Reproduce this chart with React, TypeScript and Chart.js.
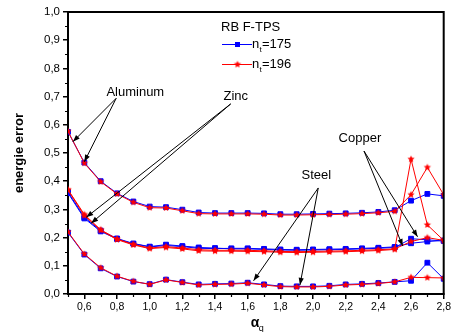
import { useEffect, useRef } from 'react';
import { Chart, registerables } from 'chart.js';

Chart.register(...registerables);

// ---------- data ----------
const ALPHA_Q = [0.5, 0.6, 0.7, 0.8, 0.9, 1.0, 1.1, 1.2, 1.3, 1.4, 1.5, 1.6, 1.7, 1.8, 1.9, 2.0, 2.1, 2.2, 2.3, 2.4, 2.5, 2.6, 2.7, 2.8];

const ALUMINUM_175 = [0.575, 0.466, 0.400, 0.357, 0.328, 0.310, 0.308, 0.299, 0.289, 0.287, 0.287, 0.287, 0.286, 0.283, 0.283, 0.284, 0.285, 0.286, 0.288, 0.291, 0.297, 0.331, 0.355, 0.348];
const ALUMINUM_196 = [0.577, 0.464, 0.398, 0.355, 0.325, 0.306, 0.305, 0.295, 0.285, 0.284, 0.284, 0.284, 0.283, 0.280, 0.280, 0.281, 0.282, 0.283, 0.285, 0.288, 0.293, 0.352, 0.449, 0.352];
const ZINC_175 = [0.358, 0.268, 0.222, 0.195, 0.178, 0.167, 0.172, 0.168, 0.162, 0.161, 0.162, 0.162, 0.160, 0.158, 0.157, 0.158, 0.159, 0.160, 0.162, 0.164, 0.167, 0.180, 0.186, 0.190];
const ZINC_196 = [0.370, 0.282, 0.228, 0.195, 0.176, 0.163, 0.168, 0.163, 0.157, 0.155, 0.155, 0.155, 0.153, 0.151, 0.150, 0.151, 0.152, 0.153, 0.155, 0.157, 0.160, 0.186, 0.200, 0.190];
const COPPER_175 = [0.362, 0.272, 0.225, 0.197, 0.179, 0.168, 0.175, 0.170, 0.165, 0.163, 0.160, 0.160, 0.158, 0.156, 0.155, 0.156, 0.157, 0.158, 0.160, 0.162, 0.165, 0.196, 0.192, 0.188];
const COPPER_196 = [0.368, 0.278, 0.226, 0.193, 0.174, 0.161, 0.165, 0.160, 0.153, 0.152, 0.152, 0.151, 0.150, 0.148, 0.147, 0.148, 0.149, 0.150, 0.152, 0.154, 0.158, 0.478, 0.245, 0.190];
const STEEL_175 = [0.218, 0.140, 0.091, 0.062, 0.044, 0.035, 0.051, 0.042, 0.034, 0.036, 0.037, 0.040, 0.034, 0.028, 0.027, 0.027, 0.029, 0.034, 0.036, 0.039, 0.043, 0.047, 0.111, 0.054];
const STEEL_196 = [0.220, 0.142, 0.093, 0.063, 0.045, 0.034, 0.050, 0.041, 0.032, 0.034, 0.035, 0.038, 0.032, 0.026, 0.025, 0.025, 0.027, 0.032, 0.034, 0.037, 0.043, 0.059, 0.058, 0.057];

const X_TICKS = [0.6, 0.8, 1.0, 1.2, 1.4, 1.6, 1.8, 2.0, 2.2, 2.4, 2.6, 2.8];
const X_MINOR = [0.5, 0.7, 0.9, 1.1, 1.3, 1.5, 1.7, 1.9, 2.1, 2.3, 2.5, 2.7];
const Y_TICKS = [0.0, 0.1, 0.2, 0.3, 0.4, 0.5, 0.6, 0.7, 0.8, 0.9, 1.0];
const Y_MINOR = [0.05, 0.15, 0.25, 0.35, 0.45, 0.55, 0.65, 0.75, 0.85, 0.95];

const LEGEND_TITLE = 'RB F-TPS';
const LEGEND_N = ['175', '196'];

// annotation labels with arrows, in data coordinates
const ANNOTATION_TEXT = ['Aluminum', 'Zinc', 'Copper', 'Steel'];
const ANNOTATION_AT = [[0.912, 0.716], [1.527, 0.702], [2.287, 0.551], [2.02, 0.422]];
const ARROW_FROM = [[0.795, 0.694], [1.496, 0.674], [2.312, 0.507], [2.032, 0.376]];
const ARROW_TO = [
  [[0.53, 0.54], [0.60, 0.469]],
  [[0.612, 0.272], [0.642, 0.251]],
  [[2.549, 0.170], [2.64, 0.203]],
  [[1.636, 0.047], [1.92, 0.032]],
];

const BLUE = '#0000ff';
const RED = '#ff0000';
const FONT = '"Liberation Sans", Arial, sans-serif';

function makeStar(color: string, r: number) {
  const size = Math.ceil(r * 2 + 2);
  const c = document.createElement('canvas');
  c.width = size;
  c.height = size;
  const g = c.getContext('2d')!;
  const cx = size / 2, cy = size / 2;
  g.beginPath();
  for (let i = 0; i < 10; i++) {
    const rr = i % 2 === 0 ? r : r * 0.45;
    const ang = -Math.PI / 2 + (i * Math.PI) / 5;
    const px = cx + rr * Math.cos(ang);
    const py = cy + rr * Math.sin(ang);
    if (i === 0) g.moveTo(px, py); else g.lineTo(px, py);
  }
  g.closePath();
  g.fillStyle = color;
  g.fill();
  return c;
}

const fmt = (v: number) => v.toFixed(1).replace('.', ',');

export default function App() {
  const ref = useRef<HTMLCanvasElement>(null);

  useEffect(() => {
    if (!ref.current) return;
    const star = makeStar(RED, 3.8);

    const pts = (arr: number[]) => arr.map((v, i) => ({ x: ALPHA_Q[i], y: v }));
    const redSet = (label: string, arr: number[]) => ({
      label, data: pts(arr), borderColor: RED, backgroundColor: RED, borderWidth: 1,
      pointStyle: star as any, pointRadius: 4, tension: 0,
    });
    const blueSet = (label: string, arr: number[]) => ({
      label, data: pts(arr), borderColor: BLUE, backgroundColor: BLUE, borderWidth: 1,
      pointStyle: 'rect' as const, pointRadius: 3.4, tension: 0,
    });

    const drawArrow = (ctx: CanvasRenderingContext2D, x1: number, y1: number, x2: number, y2: number) => {
      ctx.beginPath();
      ctx.moveTo(x1, y1);
      ctx.lineTo(x2, y2);
      ctx.stroke();
      const ang = Math.atan2(y2 - y1, x2 - x1);
      const L = 7, W = 2.6;
      ctx.beginPath();
      ctx.moveTo(x2, y2);
      ctx.lineTo(x2 - L * Math.cos(ang) + W * Math.sin(ang), y2 - L * Math.sin(ang) - W * Math.cos(ang));
      ctx.lineTo(x2 - L * Math.cos(ang) - W * Math.sin(ang), y2 - L * Math.sin(ang) + W * Math.cos(ang));
      ctx.closePath();
      ctx.fill();
    };

    const decor = {
      id: 'decor',
      afterDraw(chart: any) {
        const { ctx, chartArea: a, scales } = chart;
        const xs = scales.x, ys = scales.y;
        ctx.save();
        // frame top/right
        ctx.strokeStyle = '#000';
        ctx.lineWidth = 2;
        ctx.beginPath();
        ctx.moveTo(a.left - 1, a.top);
        ctx.lineTo(a.right, a.top);
        ctx.lineTo(a.right, a.bottom + 1);
        ctx.stroke();
        // minor ticks
        ctx.lineWidth = 1.2;
        ctx.beginPath();
        for (const v of Y_MINOR) {
          const py = Math.round(ys.getPixelForValue(v)) + 0.5;
          ctx.moveTo(a.left - 3, py);
          ctx.lineTo(a.left, py);
        }
        for (const v of X_MINOR) {
          const px = Math.round(xs.getPixelForValue(v)) + 0.5;
          ctx.moveTo(px, a.bottom);
          ctx.lineTo(px, a.bottom + 3);
        }
        ctx.stroke();

        // x title alpha_q
        ctx.fillStyle = '#000';
        ctx.textBaseline = 'alphabetic';
        ctx.textAlign = 'left';
        ctx.font = `bold 14px ${FONT}`;
        const cx = (a.left + a.right) / 2;
        ctx.fillText('α', cx - 5, 327);
        ctx.font = `9px ${FONT}`;
        ctx.fillText('q', cx + 3, 331);

        // legend
        ctx.font = `13px ${FONT}`;
        ctx.textBaseline = 'middle';
        ctx.fillText(LEGEND_TITLE, 221, 27);
        const rows = [
          { y: 44, color: BLUE, n: LEGEND_N[0], marker: 'rect' },
          { y: 64, color: RED, n: LEGEND_N[1], marker: 'star' },
        ];
        for (const r of rows) {
          ctx.strokeStyle = r.color;
          ctx.lineWidth = 1;
          ctx.beginPath();
          ctx.moveTo(222, r.y + 0.5);
          ctx.lineTo(252, r.y + 0.5);
          ctx.stroke();
          if (r.marker === 'rect') {
            ctx.fillStyle = r.color;
            ctx.fillRect(235, r.y - 2, 5, 5);
          } else {
            ctx.drawImage(star, 237.5 - star.width / 2, r.y + 0.5 - star.height / 2);
          }
          ctx.fillStyle = '#000';
          ctx.font = `13px ${FONT}`;
          ctx.fillText('n', 252, r.y);
          ctx.font = `8px ${FONT}`;
          ctx.fillText('t', 259.5, r.y + 6);
          ctx.font = `13px ${FONT}`;
          ctx.fillText('=' + r.n, 262, r.y);
        }

        // annotations
        ctx.fillStyle = '#000';
        ctx.strokeStyle = '#000';
        ctx.lineWidth = 1;
        ctx.font = `13px ${FONT}`;
        ctx.textAlign = 'center';
        ctx.textBaseline = 'middle';
        ANNOTATION_TEXT.forEach((t, i) => {
          const [lx, ly] = ANNOTATION_AT[i];
          ctx.fillText(t, xs.getPixelForValue(lx), ys.getPixelForValue(ly));
          const [fx, fy] = ARROW_FROM[i];
          for (const [tx, ty] of ARROW_TO[i]) {
            drawArrow(ctx, xs.getPixelForValue(fx), ys.getPixelForValue(fy), xs.getPixelForValue(tx), ys.getPixelForValue(ty));
          }
        });
        ctx.restore();
      },
    };

    const chart = new Chart(ref.current, {
      type: 'line',
      data: {
        datasets: [
          redSet('Aluminum n=196', ALUMINUM_196),
          redSet('Zinc n=196', ZINC_196),
          redSet('Copper n=196', COPPER_196),
          redSet('Steel n=196', STEEL_196),
          blueSet('Aluminum n=175', ALUMINUM_175),
          blueSet('Zinc n=175', ZINC_175),
          blueSet('Copper n=175', COPPER_175),
          blueSet('Steel n=175', STEEL_175),
        ],
      },
      options: {
        responsive: false,
        animation: false,
        layout: { padding: { top: 12, right: 6, bottom: 0, left: 0 } },
        plugins: { legend: { display: false }, tooltip: { enabled: false } },
        scales: {
          x: {
            type: 'linear',
            min: 0.5,
            max: 2.8,
            afterBuildTicks: (s: any) => { s.ticks = X_TICKS.map((v) => ({ value: v })); },
            afterFit: (s: any) => { s.height = 38; },
            ticks: {
              callback: (v: any) => fmt(Number(v)),
              font: { family: FONT, size: 10.5 },
              color: '#000',
              maxRotation: 0,
              autoSkip: false,
              padding: 2,
            },
            grid: { drawOnChartArea: false, drawTicks: true, tickLength: 5, color: '#000', lineWidth: 1.5 },
            border: { display: true, color: '#000', width: 2 },
          },
          y: {
            type: 'linear',
            min: 0,
            max: 1,
            afterBuildTicks: (s: any) => { s.ticks = Y_TICKS.map((v) => ({ value: v })); },
            afterFit: (s: any) => { s.width = 68; },
            ticks: {
              callback: (v: any) => fmt(Number(v)),
              font: { family: FONT, size: 11.5 },
              color: '#000',
              autoSkip: false,
              padding: 3,
            },
            title: {
              display: true,
              text: 'energie error',
              font: { family: FONT, size: 13, weight: 'bold' },
              color: '#000',
              padding: { top: 12, bottom: 0 },
            },
            grid: { drawOnChartArea: false, drawTicks: true, tickLength: 5, color: '#000', lineWidth: 1.5 },
            border: { display: true, color: '#000', width: 2 },
          },
        },
      },
      plugins: [decor],
    } as any);
    return () => chart.destroy();
  }, []);

  return (
    <div style={{ position: 'absolute', left: 0, top: 0, width: 453, height: 332, background: '#fff' }}>
      <canvas ref={ref} width={453} height={332} style={{ width: 453, height: 332 }} />
    </div>
  );
}
